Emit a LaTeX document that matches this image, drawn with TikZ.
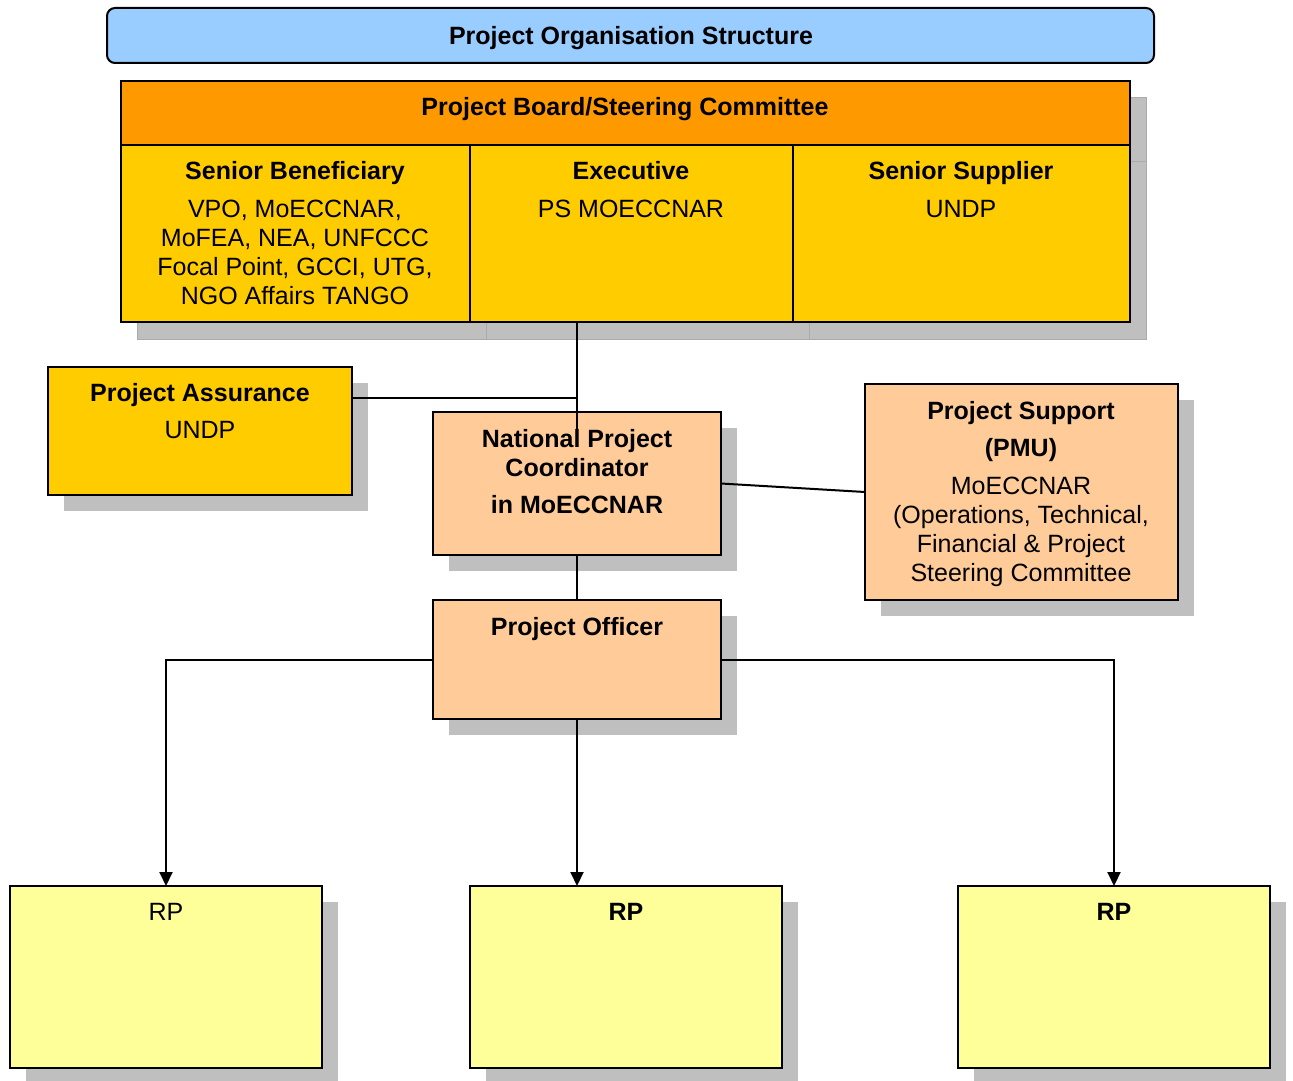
\documentclass[tikz,border=0pt]{standalone}
\usepackage{fontspec}
\setmainfont{Liberation Sans}
\usetikzlibrary{arrows.meta}
\definecolor{titleblue}{HTML}{99CCFF}
\definecolor{boardorange}{HTML}{FF9900}
\definecolor{boardyellow}{HTML}{FFCC00}
\definecolor{peach}{HTML}{FFCC99}
\definecolor{rpyellow}{HTML}{FFFF99}
\definecolor{shadowgray}{HTML}{BFBFBF}
\definecolor{shadowline}{HTML}{ABABAB}
\newcommand\shbox[6]{%
  \fill[shadowgray] ({#2+16},{#3+16}) rectangle ({#4+16},{#5+16});
  \node[box, fill=#6, minimum width={(#4-#2)*1pt}, minimum height={(#5-#3)*1pt}] (#1) at (#2,#3) {};
}
\begin{document}
\begin{tikzpicture}[x=1pt,y=-1pt,
  box/.style={draw=black, line width=2pt, inner sep=0pt, outer sep=0pt, anchor=north west},
  txt/.style={font=\fontsize{25pt}{29pt}\selectfont, align=center, inner sep=0pt, anchor=base},
  btxt/.style={txt, font=\fontsize{25pt}{29pt}\selectfont\bfseries},
  conn/.style={draw=black, line width=2pt},
  arr/.style={conn, -{Triangle[width=13pt,length=14pt]}}]
\useasboundingbox (0,0) rectangle (1293,1081);
\clip (0,0) rectangle (1293,1081);

% title
\node[box, rounded corners=8pt, fill=titleblue, minimum width=1047pt, minimum height=55pt] (title) at (107,8) {};
\node[btxt] (title-t) at (631,45) {Project Organisation Structure};

% board shadows
\fill[shadowgray, draw=shadowline, line width=1pt] (137,97) rectangle (1146,161);
\fill[shadowgray, draw=shadowline, line width=1pt] (137,161) rectangle (486,339);
\fill[shadowgray, draw=shadowline, line width=1pt] (486,161) rectangle (809,339);
\fill[shadowgray, draw=shadowline, line width=1pt] (809,161) rectangle (1146,339);
\node[box, fill=boardorange, minimum width=1009pt, minimum height=64pt] (hdr) at (121,81) {};
\node[box, fill=boardyellow, minimum width=349pt, minimum height=177pt] (sb) at (121,145) {};
\node[box, fill=boardyellow, minimum width=323pt, minimum height=177pt] (ex) at (470,145) {};
\node[box, fill=boardyellow, minimum width=337pt, minimum height=177pt] (ss) at (793,145) {};
\node[btxt] (hdr-t) at (625,115) {Project Board/Steering Committee};
\node[btxt] (sb-t) at (295,179) {Senior Beneficiary};
\node[txt] (sb-b) at (295,304) {VPO, MoECCNAR,\\MoFEA, NEA, UNFCCC\\Focal Point, GCCI, UTG,\\NGO Affairs TANGO};
\node[btxt] (ex-t) at (631,179) {Executive};
\node[txt] (ex-b) at (631,217) {PS MOECCNAR};
\node[btxt] (ss-t) at (961,179) {Senior Supplier};
\node[txt] (ss-b) at (961,217) {UNDP};

% project assurance
\shbox{pa}{48}{367}{352}{495}{boardyellow}
\node[btxt] (pa-t) at (200,401) {Project Assurance};
\node[txt] (pa-b) at (200,438) {UNDP};

% NPC
\shbox{npc}{433}{412}{721}{555}{peach}
\node[btxt] (npc-t) at (577,476) {National Project\\Coordinator};
\node[btxt] (npc-b) at (577,513) {in MoECCNAR};

% project support
\shbox{ps}{865}{384}{1178}{600}{peach}
\node[btxt] (ps-t) at (1021,419) {Project Support};
\node[btxt] (ps-p) at (1021,456) {(PMU)};
\node[txt] (ps-b) at (1021,581) {MoECCNAR\\(Operations, Technical,\\Financial \& Project\\Steering Committee};

% project officer
\shbox{po}{433}{600}{721}{719}{peach}
\node[btxt] (po-t) at (577,635) {Project Officer};

% RP boxes
\shbox{rp1}{10}{886}{322}{1068}{rpyellow}
\shbox{rp2}{470}{886}{782}{1068}{rpyellow}
\shbox{rp3}{958}{886}{1270}{1068}{rpyellow}
\node[txt] (rp1-t) at (166,920) {RP};
\node[btxt] (rp2-t) at (626,920) {RP};
\node[btxt] (rp3-t) at (1114,920) {RP};

% connectors
\coordinate (npcin) at (577,439);
\coordinate (paj) at (577,398);
\draw[conn] (ex.south -| npc.north) -- (npcin);
\draw[conn] (paj -| pa.east) -- (paj);
\draw[conn] (npc.east) -- (ps.west);
\draw[conn] (npc.south) -- (po.north);
\draw[arr] (po.west) -| (rp1.north);
\draw[arr] (po.south) -- (po.south |- rp2.north);
\draw[arr] (po.east) -| (rp3.north);
\end{tikzpicture}
\end{document}
